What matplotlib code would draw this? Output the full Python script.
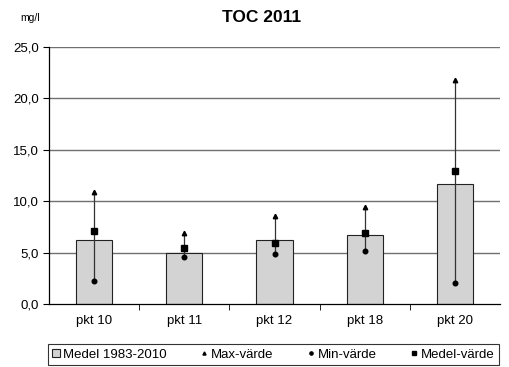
import matplotlib
matplotlib.use("Agg")
import matplotlib.pyplot as plt
from matplotlib.ticker import FuncFormatter, FixedLocator

plt.rcParams["font.family"] = ["Liberation Sans", "DejaVu Sans"]

stations = ["pkt 10", "pkt 11", "pkt 12", "pkt 18", "pkt 20"]
medel_1983_2010 = [6.2, 5.0, 6.2, 6.7, 11.7]
max_varde = [10.9, 6.9, 8.6, 9.4, 21.8]
min_varde = [2.2, 4.6, 4.9, 5.2, 2.0]
medel_varde = [7.1, 5.4, 5.9, 6.9, 12.9]


def main():
    fig = plt.figure(figsize=(5.1, 3.67), dpi=100)
    ax = fig.add_axes([49 / 510, 1 - 304 / 367, 451 / 510, 257 / 367])
    x = list(range(len(stations)))

    for yv in [5, 10, 15, 20, 25]:
        ax.axhline(yv, color="#707070", linewidth=1.0, zorder=0)

    bars = ax.bar(x, medel_1983_2010, width=0.4, color="#d3d3d3", edgecolor="#222222",
                  linewidth=0.8, zorder=2, label="Medel 1983-2010")
    ax.vlines(x, min_varde, max_varde, color="#333333", linewidth=0.9, zorder=3)
    h_max, = ax.plot(x, max_varde, linestyle="none", marker="^", markersize=3.2,
                     color="black", zorder=4, label="Max-värde")
    h_min, = ax.plot(x, min_varde, linestyle="none", marker="o", markersize=3.3,
                     color="black", zorder=4, label="Min-värde")
    h_med, = ax.plot(x, medel_varde, linestyle="none", marker="s", markersize=4.3,
                     color="black", zorder=4, label="Medel-värde")

    ax.set_xlim(-0.5, len(stations) - 0.5)
    ax.set_ylim(0, 25)
    ax.set_yticks([0, 5, 10, 15, 20, 25])
    ax.yaxis.set_major_formatter(FuncFormatter(lambda v, p: f"{v:.1f}".replace(".", ",")))
    ax.set_xticks(x)
    ax.set_xticklabels(stations)
    ax.xaxis.set_minor_locator(FixedLocator([i + 0.5 for i in x[:-1]]))
    ax.tick_params(axis="x", which="major", length=0, pad=8, labelsize=9.5)
    ax.tick_params(axis="x", which="minor", length=4, direction="out")
    ax.tick_params(axis="y", length=4, direction="out", labelsize=9.5)
    for s in ["top", "right"]:
        ax.spines[s].set_visible(False)
    ax.spines["left"].set_linewidth(0.9)
    ax.spines["bottom"].set_linewidth(0.9)

    fig.text(262 / 510, 1 - 17 / 367, "TOC 2011", ha="center", va="center",
             fontsize=12.5, fontweight="bold")
    fig.text(30 / 510, 1 - 18 / 367, "mg/l", ha="center", va="center", fontsize=7.5)

    leg = fig.legend([bars, h_max, h_min, h_med],
                     ["Medel 1983-2010", "Max-värde", "Min-värde", "Medel-värde"],
                     loc="center", bbox_to_anchor=(273.5 / 510, 1 - 354.5 / 367),
                     ncol=4, frameon=True, fancybox=False, edgecolor="black",
                     fontsize=9.5, handlelength=0.6, handleheight=0.6,
                     handletextpad=0.25, columnspacing=2.5, borderpad=0.35,
                     borderaxespad=0.0, markerscale=0.7)
    leg.get_frame().set_linewidth(0.8)

    fig.savefig("out.png", dpi=100)


if __name__ == "__main__":
    main()
